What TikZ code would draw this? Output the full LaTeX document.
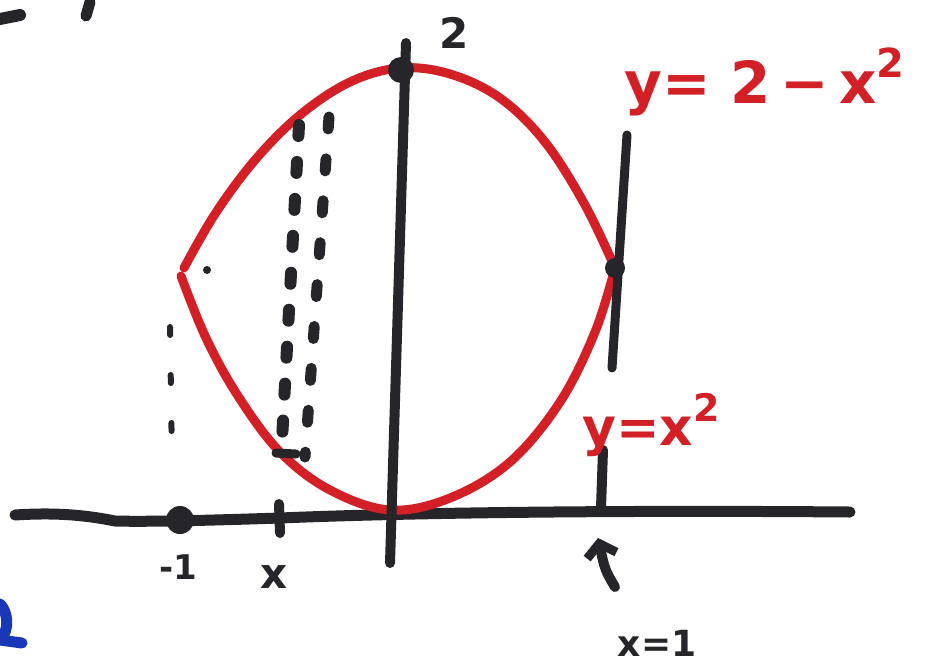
\documentclass[tikz,border=0pt]{standalone}
\usepackage{fontspec}
\setmainfont{DejaVu Sans}
\usetikzlibrary{arrows.meta}
\definecolor{pen}{RGB}{38,38,42}
\definecolor{redpen}{RGB}{210,32,38}
\definecolor{bluepen}{RGB}{25,55,185}
\begin{document}
\begin{tikzpicture}[x=1pt,y=-1pt, line cap=round, line join=round,
  axis/.style={pen, line width=11pt},
  thinaxis/.style={pen, line width=9pt},
  curve/.style={redpen, line width=9pt},
  dashA/.style={pen, line width=12pt, dash pattern=on 11pt off 26pt},
  dashB/.style={pen, line width=11pt, dash pattern=on 12pt off 30pt},
  dashC/.style={pen, line width=6pt, dash pattern=on 8pt off 40pt},
  lbl/.style={pen, font=\bfseries\fontsize{42}{42}\selectfont, inner sep=0pt},
  rlbl/.style={redpen, font=\bfseries\fontsize{58}{58}\selectfont, inner sep=0pt},
  dot/.style={circle, fill=pen, inner sep=0pt, minimum size=#1}]
\useasboundingbox (0,0) rectangle (944,670);

% named points
\coordinate (xl) at (15,515);
\coordinate (xr) at (850,512);
\coordinate (yt) at (406,43);
\coordinate (yb) at (390,563);
\coordinate (vt) at (627,135);
\coordinate (vb) at (612,368);
\coordinate (left) at (184,268);
\coordinate (right) at (615,268);

% x-axis
\draw[axis] (xl) .. controls (60,512) and (90,516) .. (115,521)
  .. controls (150,522) and (220,520) .. (280,518)
  .. controls (400,513) and (600,510) .. (xr);

% red curves
\draw[curve] (left) plot[smooth, tension=0.6] coordinates {(184,268) (215,214) (255,160) (300,115) (350,82) (400,68) (450,74) (500,98) (545,142) (585,205) (615,268)};
\draw[curve] plot[smooth, tension=0.6] coordinates {(181,276) (206,338) (238,396) (280,452) (330,490) (390,510) (450,498) (510,462) (560,402) (595,332) (615,268)};

% y-axis
\draw[axis, line width=10pt] (yt) -- (yb);
\node[dot=26pt] (top) at (401,70) {};
\node[lbl] (two) at (454,33) {2};

% line x = 1
\draw[thinaxis] (vt) -- (vb);
\node[dot=20pt] (rdot) at (615,268) {};
\node[circle, fill=pen, inner sep=0pt, minimum size=8pt] (ldot) at (207,270) {};

% dashed strips
\coordinate (d1t) at (299,125);
\coordinate (d1b) at (282,440);
\coordinate (d2t) at (329,117);
\coordinate (d2b) at (305,457);
\draw[dashA] (d1t) -- (d1b);
\draw[dashB] (d2t) -- (d2b);
\coordinate (ht1) at (276,453);
\coordinate (ht2) at (296,454);
\draw[pen, line width=9pt] (ht1) -- (ht2);

% dashed x = -1
\coordinate (m1t) at (170,327);
\coordinate (m1b) at (172,462);
\draw[dashC] (m1t) -- (m1b);

% ticks and dots on axis
\node[dot=28pt] (mdot) at (180,520) {};
\coordinate (tx1) at (279,504);
\coordinate (tx2) at (280,533);
\draw[pen, line width=10pt] (tx1) -- (tx2);
\coordinate (t11) at (603,450);
\coordinate (t12) at (601,508);
\draw[pen, line width=10pt] (t11) -- (t12);

% labels on axis
\node[lbl, font=\bfseries\fontsize{34}{34}\selectfont] (m1) at (178,567) {-1};
\node[lbl] (xlab) at (274,577) {x};

% arrow to x = 1
\coordinate (ab) at (615,587);
\coordinate (at) at (598,538);
\draw[pen, line width=10pt, -{Straight Barb[length=12pt, width=30pt, line width=9pt]}] (ab) .. controls (605,570) .. (at);
\node[lbl, font=\bfseries\fontsize{36}{36}\selectfont] (x1) at (657,643) {x=1};

% red labels
\node[rlbl, anchor=west] (f1) at (624,82) {y= 2\,−\,x\raisebox{0.45em}{\fontsize{40}{40}\selectfont 2}};
\node[rlbl, anchor=west, font=\bfseries\fontsize{52}{52}\selectfont] (f2) at (582,425) {y=x\raisebox{0.45em}{\fontsize{38}{38}\selectfont 2}};

% cut-off fragments at the page edges
\draw[pen, line width=12pt] (0,19) -- (20,15);
\draw[pen, line width=11pt] (90,2) -- (86,16);
\draw[bluepen, line width=11pt] (0,604) .. controls (8,612) and (10,630) .. (0,640) -- (22,643);
\end{tikzpicture}
\end{document}
